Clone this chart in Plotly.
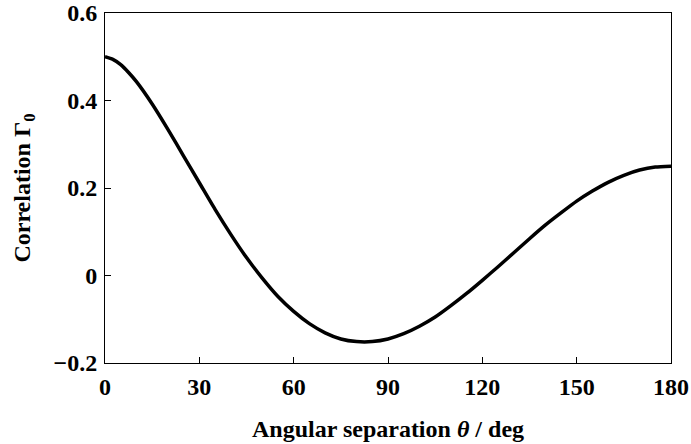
import plotly.graph_objects as go

theta_deg = [0, 2.5, 5, 7.5, 10, 15, 20, 25, 30, 35, 40, 45, 50, 55, 60, 65, 70, 75, 80, 85, 90,
             95, 100, 105, 110, 115, 120, 125, 130, 135, 140, 145, 150, 155, 160, 165, 170, 175, 180]
gamma0 = [0.500, 0.494, 0.482, 0.464, 0.443, 0.392, 0.334, 0.273, 0.212, 0.151, 0.094, 0.041, -0.006,
          -0.048, -0.082, -0.110, -0.131, -0.145, -0.151, -0.151, -0.145,
          -0.133, -0.116, -0.095, -0.069, -0.041, -0.011, 0.020, 0.052, 0.084, 0.115,
          0.143, 0.170, 0.193, 0.213, 0.229, 0.241, 0.248, 0.250]

x_ticks = [0, 30, 60, 90, 120, 150, 180]
x_ticklabels = ["0", "30", "60", "90", "120", "150", "180"]
y_ticks = [-0.2, 0, 0.2, 0.4, 0.6]
y_ticklabels = ["\u22120.2", "0", "0.2", "0.4", "0.6"]

font_family = "Liberation Serif, Times New Roman, serif"

fig = go.Figure()
fig.add_trace(go.Scatter(
    x=theta_deg, y=gamma0, mode="lines",
    line=dict(color="black", width=3.5, shape="spline", smoothing=0.6),
    showlegend=False, hoverinfo="skip",
))

fig.update_layout(
    width=691, height=444,
    margin=dict(l=105, r=20, t=13, b=81),
    paper_bgcolor="white", plot_bgcolor="white",
    font=dict(family=font_family, size=24, color="black"),
)

fig.update_xaxes(
    range=[0, 180], tickvals=x_ticks, ticktext=x_ticklabels,
    showgrid=False, zeroline=False, automargin=False,
    showline=True, linecolor="black", linewidth=1, mirror=True,
    ticks="inside", ticklen=6, tickcolor="black", tickwidth=1,
    ticklabelstandoff=2, ticklabeloverflow="allow",
    tickfont=dict(family=font_family, size=24, weight="bold"),
    title=dict(text="Angular separation <i>θ</i> / deg",
               font=dict(family=font_family, size=24, weight="bold"), standoff=21),
)
fig.update_yaxes(
    range=[-0.2, 0.6], tickvals=y_ticks, ticktext=y_ticklabels,
    showgrid=False, zeroline=False, automargin=False,
    showline=True, linecolor="black", linewidth=1, mirror=True,
    ticks="inside", ticklen=6, tickcolor="black", tickwidth=1,
    ticklabelstandoff=2, ticklabeloverflow="allow",
    tickfont=dict(family=font_family, size=24, weight="bold"),
    title=dict(text="Correlation Γ<sub>0</sub>",
               font=dict(family=font_family, size=24, weight="bold"), standoff=16),
)

fig.write_html("out.html", config={"displayModeBar": False},
               post_script="document.body.style.margin='0';")
